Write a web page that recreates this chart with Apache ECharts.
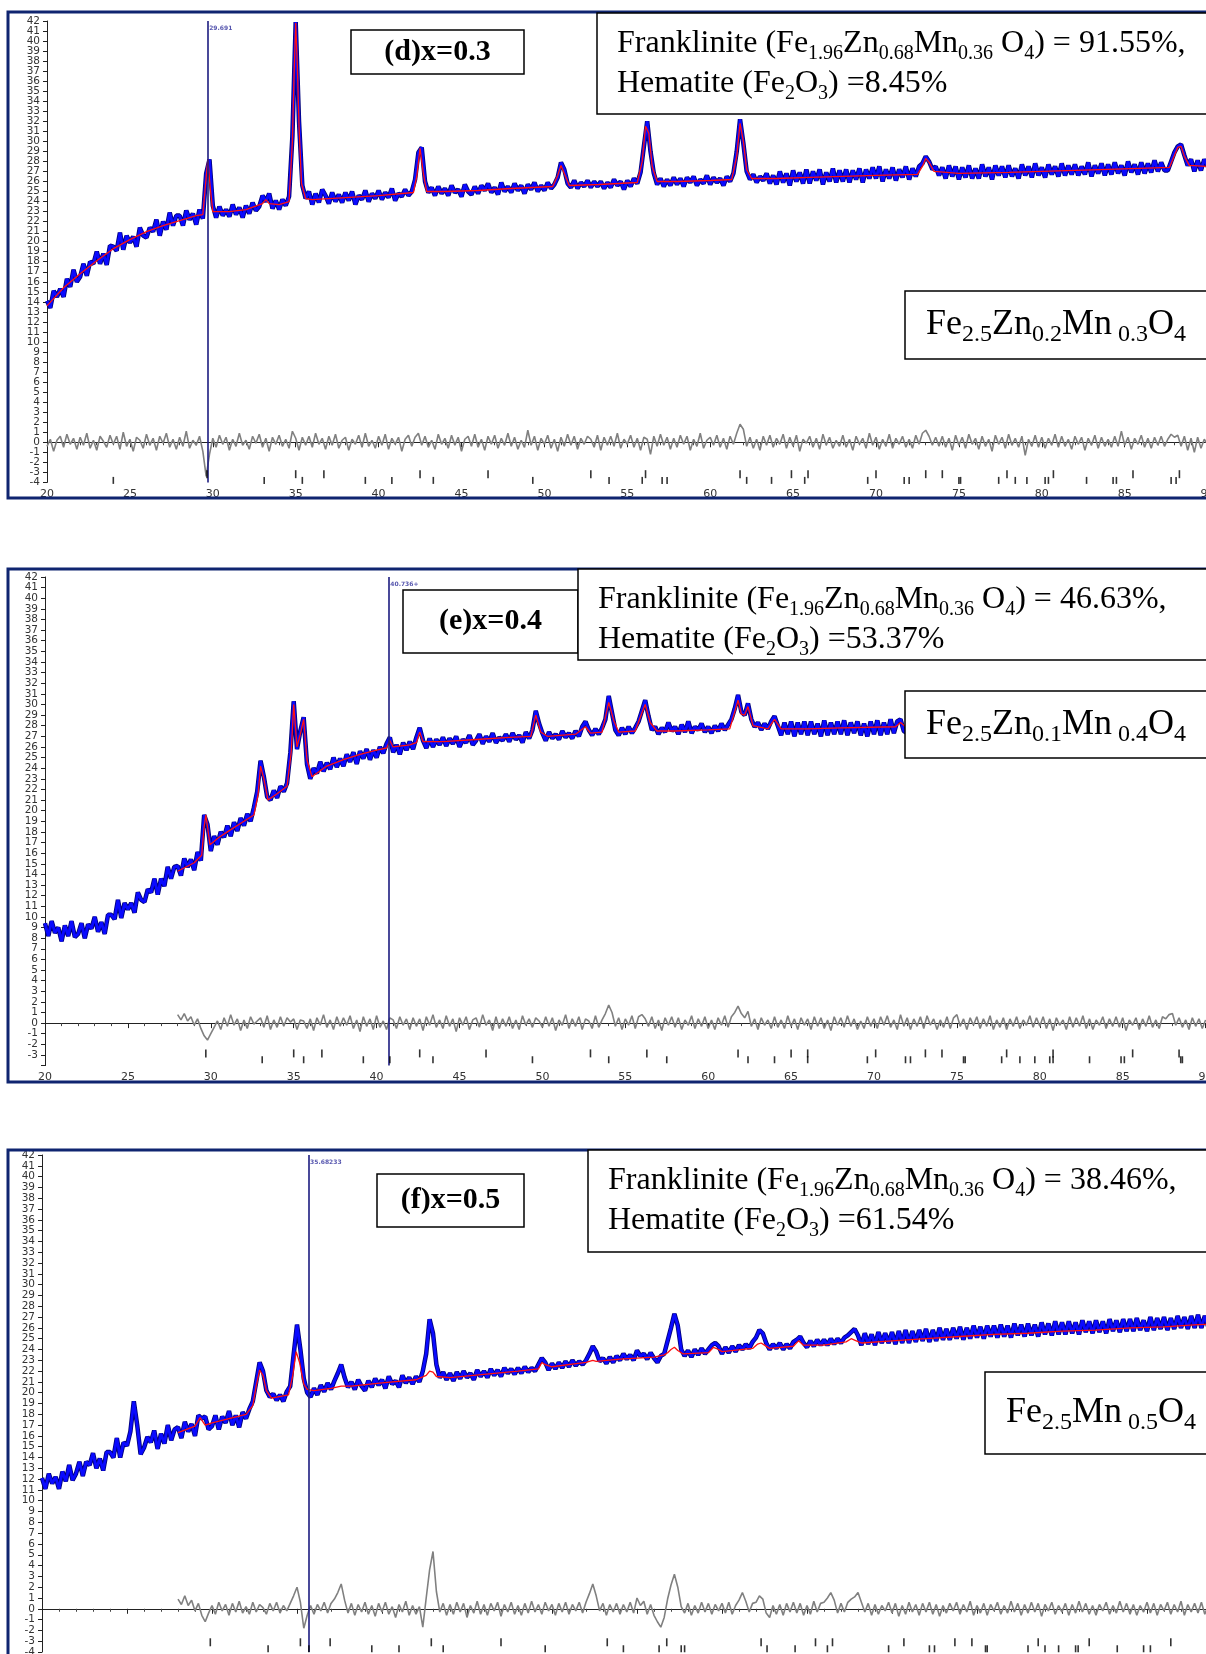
<!DOCTYPE html>
<html>
<head>
<meta charset="utf-8">
<title>Rietveld refinement patterns (d)-(f)</title>
<script src="https://cdn.jsdelivr.net/npm/echarts@6.0.0/dist/echarts.min.js"></script>
<style>
  html, body { margin: 0; padding: 0; background: #fff; }
  #chart { width: 1206px; height: 1654px; }
</style>
</head>
<body>
<div id="chart"></div>
<script>
// scan grid: 20..90 deg 2theta, one value every 0.2 deg
const START = 20;
const STEP = 0.2;

// ---------- (d) x = 0.3 ----------
const obsD = [
  14.1, 13.4, 15.1, 14.5, 15.3, 14.5, 16.3, 15.5, 17.2, 16.0,
  16.5, 17.8, 16.6, 18.0, 17.8, 19.0, 17.8, 18.8, 17.7, 19.6,
  19.5, 19.1, 20.9, 19.2, 20.6, 19.9, 20.5, 19.5, 21.4, 20.6,
  20.4, 21.4, 21.0, 22.2, 20.6, 22.0, 21.2, 22.9, 21.6, 22.6,
  22.6, 21.6, 23.1, 22.2, 22.8, 21.7, 23.2, 22.3, 26.8, 28.2,
  23.6, 22.4, 23.5, 22.6, 23.2, 22.5, 23.7, 22.7, 23.4, 22.4,
  23.6, 22.8, 23.9, 23.1, 23.5, 24.6, 24.0, 24.8, 23.3, 24.1,
  23.2, 24.2, 23.6, 24.5, 30.5, 41.9, 32.0, 25.6, 24.3, 25.0,
  23.7, 24.8, 23.9, 25.2, 24.6, 23.8, 24.9, 24.0, 24.7, 23.9,
  24.9, 24.1, 25.0, 23.7, 24.6, 24.2, 25.1, 24.0, 24.8, 24.3,
  25.1, 24.2, 24.9, 24.4, 25.3, 24.1, 24.8, 24.5, 25.2, 24.6,
  25.0, 26.2, 28.9, 29.4, 26.0, 24.9, 25.4, 24.6, 25.5, 24.8,
  25.3, 24.6, 25.6, 24.9, 25.2, 24.5, 25.7, 25.0, 24.7, 25.5,
  24.8, 25.6, 25.1, 25.8, 24.9, 25.4, 24.7, 25.9, 25.0, 25.5,
  24.9, 25.8, 25.1, 25.6, 24.8, 25.7, 25.2, 25.9, 25.0, 25.6,
  25.1, 25.9, 25.3, 25.7, 26.4, 27.9, 27.2, 25.8, 25.4, 26.1,
  25.3, 25.9, 25.5, 26.1, 25.4, 26.0, 25.5, 26.0, 25.3, 25.9,
  25.4, 26.2, 25.6, 26.0, 25.2, 26.1, 25.5, 26.3, 25.8, 26.9,
  29.5, 32.0, 29.0, 26.8, 25.7, 26.3, 25.5, 26.2, 25.6, 26.4,
  25.7, 26.3, 25.5, 26.4, 25.9, 26.5, 25.6, 26.2, 25.8, 26.6,
  25.7, 26.4, 25.9, 26.3, 25.6, 26.5, 26.0, 26.8, 29.0, 32.2,
  29.8, 27.0, 26.2, 26.7, 25.9, 26.5, 26.1, 26.8, 25.8, 26.6,
  25.7, 27.0, 25.9, 26.8, 25.6, 27.1, 26.0, 26.9, 25.8, 27.2,
  25.8, 27.0, 26.1, 27.2, 25.7, 26.9, 26.0, 27.3, 25.9, 27.1,
  26.0, 27.2, 25.9, 27.1, 26.2, 27.3, 25.9, 27.2, 26.3, 27.4,
  26.3, 27.5, 26.0, 27.2, 26.3, 27.4, 26.1, 27.2, 26.4, 27.5,
  26.2, 27.3, 26.5, 27.5, 27.8, 28.5, 28.0, 27.2, 27.5, 26.6,
  27.4, 26.3, 27.6, 26.5, 27.5, 26.2, 27.4, 26.4, 27.6, 26.3,
  27.3, 26.3, 27.7, 26.5, 27.4, 26.2, 27.6, 26.6, 27.5, 26.4,
  27.6, 26.5, 27.3, 26.3, 27.7, 26.6, 27.5, 26.4, 27.8, 26.6,
  27.4, 26.4, 27.7, 26.7, 27.5, 26.5, 27.8, 26.6, 27.6, 26.7,
  27.7, 26.6, 27.5, 26.7, 27.9, 26.5, 27.6, 26.8, 27.8, 26.6,
  27.7, 26.7, 27.9, 26.8, 27.6, 26.6, 28.0, 26.9, 27.7, 26.7,
  27.9, 26.8, 27.8, 26.9, 28.1, 27.0, 27.9, 27.1, 27.1, 28.0,
  28.9, 29.5, 29.7, 28.6, 27.6, 28.2, 27.0, 28.1, 27.1, 28.2,
  27.5
];
const calcD = [
  [20, 13.6], [21, 15.4], [22, 16.8], [23, 18.1], [24, 19.3], [25, 20.2], [26, 21.0],
  [27, 21.6], [28, 22.1], [29, 22.6], [29.4, 22.7], [29.55, 25.5], [29.7, 28.2],
  [29.85, 25.3], [30.0, 23.0], [31, 23.0], [32, 23.2], [33.0, 23.8], [33.2, 24.2],
  [33.4, 23.8], [34, 23.7], [34.6, 24.0], [34.8, 30.0], [34.9, 36.5], [35.0, 41.8],
  [35.1, 37.5], [35.2, 31.5], [35.35, 25.8], [35.6, 24.3], [36, 24.2], [38, 24.4],
  [40, 24.6], [42.1, 24.9], [42.3, 26.5], [42.5, 29.3], [42.7, 26.8], [42.9, 25.0],
  [44, 25.0], [46, 25.1], [48, 25.3], [50.5, 25.5], [50.8, 26.6], [51.0, 27.6],
  [51.2, 26.8], [51.5, 25.6], [53.3, 25.7], [55.6, 25.9], [55.9, 28.0], [56.1, 31.5],
  [56.3, 30.8], [56.5, 27.5], [56.8, 26.0], [58, 26.0], [60, 26.1], [61.3, 26.2],
  [61.6, 28.5], [61.8, 31.8], [62.0, 30.0], [62.2, 27.2], [62.5, 26.3], [64, 26.3],
  [66, 26.4], [68, 26.5], [70, 26.6], [72.5, 26.7], [72.8, 27.5], [73.0, 28.3],
  [73.2, 27.9], [73.5, 27.0], [75, 26.8], [78, 26.9], [80, 27.0], [82, 27.1],
  [84, 27.2], [87.7, 27.4], [88.0, 28.6], [88.2, 29.4], [88.4, 29.5], [88.6, 28.5],
  [88.9, 27.6], [90, 27.5]
];
const diffD = [
  -0.4, 0.3, -0.9, 0.2, 0.6, -0.5, 0.8, -0.2, 0.4, -0.7,
  0.5, -0.3, 0.9, -0.6, 0.2, -0.8, 0.6, 0.1, -0.5, 0.7,
  -0.2, 0.6, -0.7, 1.0, -0.4, 0.3, -0.9, 0.5, 0.2, -0.6,
  0.8, -0.3, 0.4, -0.8, 0.6, -0.1, 0.9, -0.5, 0.3, -0.7,
  0.5, -0.4, 1.1, -0.6, 0.2, -0.3, 0.6, -0.9, -3.4, -1.2,
  0.4, -0.5, 0.7, -0.2, 0.5, -0.8, 0.3, -0.4, 0.9, -0.3,
  0.2, -0.7, 0.6, -0.1, 0.8, -0.5, 0.4, -0.9, 0.5, -0.2,
  0.7, -0.4, 0.3, -0.6, 1.1, 0.4, -0.8, 0.5, -0.3, 0.6,
  -0.5, 0.9, -0.2, 0.4, -0.7, 0.6, -0.3, 0.8, -0.6, 0.2,
  0.5, -0.8, 0.3, -0.2, 0.7, -0.5, 0.9, -0.4, 0.2, -0.6,
  0.6, -0.3, 0.8, -0.7, 0.4, -0.2, 0.5, -0.9, 0.3, 0.7,
  -0.4, 0.5, 0.9, -0.3, 0.6, -0.5, 0.2, -0.7, 0.8, -0.2,
  0.4, -0.6, 0.7, -0.3, 0.5, -0.9, 0.3, 0.6, -0.4, 0.8,
  -0.5, 0.3, -0.8, 0.6, -0.2, 0.7, -0.6, 0.4, -0.3, 0.9,
  -0.4, 0.5, -0.7, 0.2, -0.5, 1.2, -0.3, 0.6, -0.8, 0.4,
  -0.2, 0.7, -0.6, 0.3, -0.9, 0.5, -0.4, 0.8, -0.3, 0.6,
  -0.7, 0.4, -0.2, 0.6, 0.3, -0.5, 0.7, -0.8, 0.5, -0.3,
  0.6, -0.4, 0.9, -0.6, 0.3, -0.2, 0.7, -0.5, 0.4, -0.8,
  0.5, 0.3, -1.2, 0.6, -0.4, 0.8, -0.3, 0.5, -0.7, 0.4,
  -0.5, 0.7, -0.2, 0.6, -0.8, 0.3, -0.4, 0.9, -0.6, 0.2,
  0.5, -0.3, 0.7, -0.5, 0.4, -0.7, 0.6, -0.2, 0.9, 1.8,
  1.3, -0.4, 0.5, -0.6, 0.3, -0.8, 0.6, -0.3, 0.7, -0.5,
  0.4, -0.2, 0.8, -0.6, 0.5, -0.4, 0.7, -0.9, 0.3, -0.1,
  0.6, -0.5, 0.4, -0.7, 0.8, -0.3, 0.5, -0.6, 0.2, -0.4,
  0.7, -0.5, 0.3, -0.8, 0.6, -0.2, 0.4, -0.6, 0.9, -0.3,
  0.5, -0.7, 0.3, -0.4, 0.8, -0.6, 0.4, -0.2, 0.6, -0.5,
  0.3, -0.6, 0.7, -0.2, 0.9, 1.2, 0.6, -0.3, 0.5, -0.4,
  0.6, -0.5, 0.4, -0.8, 0.7, -0.3, 0.5, -0.6, 0.8, -0.2,
  0.4, -0.7, 0.6, -0.4, 0.3, -0.9, 0.7, -0.2, 0.5, -0.6,
  0.8, -0.3, 0.4, -0.5, 0.6, -1.3, 0.3, -0.4, 0.7, -0.5,
  0.5, -0.6, 0.4, -0.3, 0.8, -0.5, 0.6, -0.4, 0.3, -0.7,
  0.6, -0.2, 0.5, -0.8, 0.4, -0.3, 0.7, -0.6, 0.5, -0.4,
  0.3, -0.5, 0.6, -0.4, 1.1, -0.3, 0.5, -0.7, 0.4, -0.2,
  0.7, -0.5, 0.4, -0.6, 0.5, -0.3, 0.6, -0.4, 0.3, 0.8,
  0.5, 0.7, -0.4, 0.6, -0.8, 0.4, -1.0, 0.5, -0.6, 0.3,
  -0.2
];
const spinelD = [29.65, 35.0, 36.7, 42.5, 46.6, 52.8, 56.1, 61.8, 64.9, 65.9, 70.0, 73.0, 74.0, 77.9, 80.7, 85.5, 88.3];
const hematiteD = [24.0, 33.1, 35.4, 39.2, 40.8, 43.3, 49.3, 53.9, 55.9, 57.1, 57.4, 62.2, 63.7, 65.7, 69.5, 71.7, 72.0,
  75.0, 75.1, 77.4, 78.4, 79.1, 80.2, 80.4, 82.7, 84.3, 84.5, 87.8, 88.1];

// ---------- (e) x = 0.4 ----------
const obsE = [
  9.4, 8.2, 9.6, 8.5, 9.0, 7.7, 9.2, 8.2, 9.6, 8.1,
  8.4, 9.4, 8.0, 9.3, 8.9, 10.0, 8.6, 9.5, 8.4, 10.2,
  10.2, 9.8, 11.6, 9.9, 11.3, 10.7, 11.3, 10.4, 12.3, 11.6,
  11.4, 12.6, 12.3, 13.6, 12.1, 13.6, 12.9, 14.7, 13.6, 14.7,
  14.8, 13.9, 15.5, 14.7, 15.4, 14.4, 16.1, 15.3, 19.6, 18.7,
  16.2, 17.6, 16.8, 18.0, 17.5, 18.6, 17.6, 18.9, 18.1, 19.3,
  18.6, 19.7, 19.0, 20.3, 21.8, 24.7, 23.2, 21.3, 21.0, 21.9,
  21.2, 22.3, 21.8, 22.6, 25.5, 30.3, 25.8, 27.5, 28.8, 24.4,
  23.0, 24.0, 23.5, 24.6, 23.7, 24.5, 23.9, 25.0, 24.1, 24.9,
  24.2, 25.3, 24.6, 25.5, 24.4, 25.6, 24.9, 25.8, 24.8, 25.7,
  25.0, 26.0, 25.4, 26.3, 26.9, 25.5, 26.2, 25.3, 26.4, 25.7,
  26.5, 25.8, 26.9, 27.8, 26.6, 25.9, 26.8, 26.0, 26.7, 26.2,
  26.9, 26.1, 26.8, 26.3, 27.0, 26.0, 26.7, 26.4, 27.1, 26.2,
  26.6, 27.2, 26.3, 27.0, 26.5, 27.3, 26.4, 26.9, 26.6, 27.2,
  26.5, 27.3, 26.7, 27.1, 26.4, 27.4, 26.8, 27.6, 29.4, 28.2,
  27.3, 26.6, 27.4, 26.8, 27.2, 26.7, 27.5, 26.9, 27.3, 26.8,
  27.5, 27.0, 27.9, 28.4, 27.6, 27.1, 27.7, 27.2, 27.8, 28.6,
  30.8, 29.2, 27.6, 27.1, 27.8, 27.2, 27.9, 27.3, 27.8, 28.4,
  29.4, 30.4, 28.9, 27.6, 27.9, 27.2, 27.8, 27.4, 28.3, 27.5,
  27.9, 27.2, 28.1, 27.4, 28.4, 27.3, 27.9, 27.6, 28.2, 27.4,
  27.9, 27.3, 28.0, 27.5, 28.2, 27.6, 28.1, 28.6, 29.6, 30.9,
  29.3, 29.0, 30.1, 28.6, 27.9, 28.3, 27.6, 28.2, 27.7, 28.4,
  28.9, 28.0, 27.1, 28.3, 27.2, 28.4, 27.0, 28.3, 27.2, 28.4,
  27.1, 28.4, 27.2, 28.2, 27.0, 28.5, 27.1, 28.3, 27.2, 28.4,
  27.2, 28.5, 27.1, 28.3, 27.3, 28.4, 27.1, 28.2, 27.0, 28.4,
  27.2, 28.5, 27.1, 28.3, 27.2, 28.6, 27.3, 28.4, 28.6, 27.5,
  27.3, 28.5, 27.2, 28.4, 27.3, 28.6, 27.2, 28.3, 27.4, 28.6,
  27.3, 28.5, 27.2, 28.4, 27.4, 28.3, 28.9, 28.1, 27.3, 28.6,
  27.4, 28.5, 27.3, 28.6, 27.3, 28.4, 27.4, 28.6, 27.3, 28.5,
  27.5, 28.6, 27.4, 28.5, 27.4, 28.7, 27.5, 28.4, 27.5, 28.6,
  27.4, 28.6, 27.5, 28.7, 27.4, 28.5, 27.6, 28.6, 27.4, 28.5,
  27.6, 28.7, 27.5, 28.6, 27.5, 28.6, 27.6, 28.8, 27.5, 28.5,
  27.7, 28.8, 27.6, 28.6, 27.6, 28.8, 27.5, 28.6, 27.7, 28.7,
  27.7, 28.8, 27.7, 28.7, 27.8, 28.9, 27.7, 28.7, 29.0, 29.4,
  29.6, 29.2, 28.2, 29.0, 27.8, 28.9, 27.9, 29.0, 27.8, 28.8,
  28.5
];
const calcE = [
  [28, 14.3], [29, 15.1], [29.45, 15.8], [29.6, 18.5], [29.7, 19.6], [29.8, 18.5],
  [29.95, 16.8], [30.5, 17.5], [31, 18.0], [32, 19.0], [32.6, 19.6], [32.85, 21.5],
  [33.0, 24.2], [33.2, 23.0], [33.45, 21.0], [34, 21.6], [34.6, 22.3], [34.85, 25.5],
  [35.0, 30.0], [35.2, 26.0], [35.4, 27.2], [35.6, 28.6], [35.8, 24.8], [36.1, 23.2],
  [37, 24.2], [38, 24.8], [39, 25.3], [40, 25.7], [40.6, 25.9], [40.8, 26.6],
  [41.0, 26.0], [42, 26.2], [42.4, 26.4], [42.6, 27.4], [42.8, 26.5], [44, 26.5],
  [46, 26.7], [48, 26.9], [49.3, 27.0], [49.6, 29.0], [49.9, 27.4], [50.3, 27.0],
  [52, 27.2], [52.6, 27.9], [52.9, 27.3], [53.6, 27.4], [54.0, 30.2], [54.3, 28.5],
  [54.6, 27.4], [55.6, 27.5], [56.0, 29.2], [56.2, 30.0], [56.5, 28.3], [56.9, 27.5],
  [58, 27.5], [60, 27.6], [61.3, 27.7], [61.6, 29.3], [61.8, 30.4], [62.0, 29.1],
  [62.2, 29.0], [62.4, 29.8], [62.7, 28.0], [63.6, 27.7], [64.0, 28.6], [64.4, 27.7],
  [66, 27.7], [68, 27.8], [71.3, 27.9], [71.6, 28.3], [71.9, 27.9], [75.0, 27.9],
  [75.2, 28.4], [75.5, 28.0], [80, 28.0], [85, 28.1], [87.6, 28.3], [88.0, 29.3],
  [88.3, 29.2], [88.6, 28.4], [90, 28.3]
];
const diffE = [
  0.8, 0.3, 0.9, 0.2, 0.6, -0.2, 0.4, -0.5, -1.2, -1.6,
  -1.0, -0.4, 0.2, -0.6, 0.5, -0.3, 0.8, -0.2, 0.4, -0.7,
  0.3, -0.5, 0.6, -0.1, 0.2, 0.5, -0.4, 0.7, -0.6, 0.3,
  -0.4, 0.6, -0.3, 0.5, 0.1, 0.4, -0.6, 0.3, 0.2, -0.5,
  0.4, -0.7, 0.5, -0.2, 0.8, -0.4, 0.3, -0.6, 0.6, -0.3,
  0.5, -0.2, 0.7, -0.5, 0.3, -0.8, 0.6, -0.3, 0.4, -0.6,
  0.7, -0.4, 0.2, -0.6, 0.5, 0.3, -0.5, 0.6, -0.2, 0.4,
  -0.6, 0.5, -0.3, 0.4, -0.7, 0.6, -0.2, 0.8, -0.4, 0.3,
  -0.5, 0.7, -0.3, 0.4, -0.8, 0.5, -0.2, 0.6, -0.6, 0.3,
  0.5, -0.4, 0.8, -0.2, 0.3, -0.7, 0.6, -0.5, 0.4, -0.3,
  0.6, -0.5, 0.3, -0.6, 0.7, -0.2, 0.4, -0.4, 0.5, 0.2,
  -0.4, 0.6, -0.3, 0.5, -0.7, 0.3, -0.2, 0.8, -0.5, 0.4,
  -0.3, 0.6, -0.6, 0.4, 0.2, -0.5, 0.7, -0.4, 0.3, 0.9,
  1.7, 1.0, -0.3, 0.5, -0.6, 0.4, -0.2, 0.7, -0.5, 0.6,
  0.8, 0.4, -0.3, 0.6, -0.5, 0.3, -0.7, 0.5, -0.2, 0.6,
  -0.4, 0.5, -0.6, 0.3, -0.2, 0.7, -0.5, 0.4, -0.3, 0.6,
  -0.5, 0.3, -0.6, 0.5, -0.2, 0.7, -0.4, 0.6, 1.0, 1.6,
  0.9, 0.5, 1.1, -0.3, 0.4, -0.6, 0.5, -0.2, 0.3, -0.5,
  0.6, -0.4, 0.3, -0.5, 0.7, -0.3, 0.4, -0.6, 0.5, -0.2,
  0.4, -0.6, 0.6, -0.3, 0.5, -0.5, 0.3, -0.7, 0.6, -0.2,
  0.5, -0.4, 0.7, -0.3, 0.4, -0.6, 0.2, -0.5, 0.6, -0.3,
  0.4, -0.5, 0.6, -0.2, 0.7, -0.4, 0.3, -0.6, 0.8, -0.3,
  0.5, -0.6, 0.4, -0.3, 0.6, -0.5, 0.7, -0.2, 0.4, -0.6,
  0.3, -0.4, 0.6, -0.5, 0.5, 0.8, -0.3, 0.4, -0.6, 0.5,
  -0.2, 0.6, -0.5, 0.4, -0.3, 0.7, -0.6, 0.3, -0.4, 0.5,
  -0.6, 0.4, -0.3, 0.6, -0.5, 0.3, -0.2, 0.7, -0.4, 0.5,
  -0.3, 0.6, -0.5, 0.4, -0.7, 0.5, -0.2, 0.3, -0.6, 0.6,
  -0.4, 0.5, -0.3, 0.7, -0.5, 0.4, -0.6, 0.3, -0.2, 0.6,
  -0.5, 0.4, -0.3, 0.6, -0.4, 0.5, -0.7, 0.3, -0.2, 0.5,
  -0.6, 0.4, -0.3, 0.7, -0.4, 0.3, -0.5, 0.6, 0.4, 0.8,
  0.9, -0.2, 0.5, -0.4, 0.3, -0.6, 0.5, -0.3, 0.4, -0.5,
  0.3
];
const spinelE = [29.7, 35.0, 36.7, 42.6, 46.6, 52.9, 56.3, 61.8, 65.0, 66.0, 70.1, 73.1, 74.1, 78.0, 80.8, 85.6, 88.4];
const hematiteE = [33.1, 35.6, 39.2, 40.8, 43.4, 49.4, 54.0, 57.5, 62.4, 64.0, 66.0, 69.6, 71.9, 72.2, 75.4, 75.5,
  77.7, 78.8, 79.7, 80.6, 80.8, 83.0, 84.9, 85.1, 88.5, 88.6];

// ---------- (f) x = 0.5 ----------
const obsF = [
  12.1, 11.1, 12.5, 11.6, 12.2, 11.1, 12.7, 11.8, 13.3, 11.9,
  12.5, 13.6, 12.3, 13.6, 13.3, 14.4, 13.0, 13.9, 12.8, 14.5,
  14.5, 14.0, 15.8, 14.0, 15.4, 15.1, 16.4, 19.2, 17.0, 14.3,
  14.9, 15.9, 15.4, 16.5, 14.8, 16.2, 15.3, 17.0, 15.6, 16.6,
  16.8, 15.8, 17.3, 16.4, 17.1, 16.0, 17.9, 17.6, 17.8, 16.6,
  16.9, 17.9, 16.6, 17.8, 17.2, 18.3, 17.0, 17.9, 16.8, 18.2,
  17.6, 18.5, 19.2, 21.0, 22.8, 22.0, 20.2, 19.6, 19.9, 19.3,
  19.8, 19.2, 20.1, 20.6, 23.5, 26.3, 24.0, 21.3, 20.0, 19.6,
  20.4, 19.8, 20.7, 20.1, 20.9, 20.3, 21.1, 21.8, 22.6, 21.4,
  20.5, 21.0, 20.3, 21.2, 20.6, 20.2, 21.1, 20.5, 21.3, 20.7,
  21.2, 20.4, 21.5, 20.8, 21.1, 20.5, 21.6, 20.9, 21.4, 20.8,
  21.5, 21.0, 22.0, 23.6, 26.8, 25.5, 22.6, 21.4, 21.9, 21.2,
  21.8, 21.1, 21.9, 21.3, 22.0, 21.4, 21.8, 21.2, 22.1, 21.5,
  22.0, 21.4, 22.2, 21.6, 22.1, 21.5, 22.3, 21.8, 22.2, 21.7,
  22.3, 21.8, 22.4, 21.9, 22.3, 22.0, 22.6, 23.2, 22.8, 22.1,
  22.7, 22.2, 22.8, 22.3, 22.9, 22.4, 23.0, 22.5, 22.9, 22.6,
  23.0, 23.6, 24.3, 23.8, 22.9, 23.2, 22.7, 23.3, 22.8, 23.4,
  23.0, 23.6, 23.1, 23.5, 23.0, 23.9, 23.4, 23.6, 23.1, 23.7,
  23.2, 22.8, 23.4, 23.6, 24.8, 26.0, 27.3, 26.2, 24.0, 23.4,
  23.9, 23.3, 24.0, 23.5, 24.1, 23.6, 24.0, 24.4, 24.6, 24.3,
  23.6, 24.2, 23.7, 24.3, 23.8, 24.4, 24.0, 24.5, 24.1, 24.7,
  25.1, 25.8, 25.5, 24.6, 24.0, 24.5, 24.1, 24.6, 24.0, 24.5,
  24.1, 24.7, 24.9, 25.2, 24.6, 24.2, 24.8, 24.3, 24.9, 24.4,
  24.9, 24.4, 25.0, 24.5, 25.0, 24.6, 25.1, 25.3, 25.6, 25.9,
  25.3, 24.4, 25.5, 24.5, 25.4, 24.4, 25.6, 24.6, 25.5, 24.6,
  25.6, 24.5, 25.7, 24.6, 25.8, 24.6, 25.7, 24.7, 25.8, 24.8,
  25.9, 24.7, 25.8, 24.8, 26.0, 24.9, 25.9, 24.9, 26.0, 25.0,
  26.1, 24.9, 26.0, 25.0, 26.2, 25.1, 26.1, 25.0, 26.2, 25.2,
  26.2, 25.1, 26.3, 25.2, 26.2, 25.1, 26.4, 25.3, 26.3, 25.2,
  26.4, 25.3, 26.3, 25.2, 26.5, 25.4, 26.4, 25.3, 26.6, 25.4,
  26.5, 25.4, 26.6, 25.5, 26.5, 25.4, 26.7, 25.6, 26.6, 25.5,
  26.7, 25.6, 26.6, 25.5, 26.8, 25.7, 26.7, 25.6, 26.8, 25.7,
  26.8, 25.7, 26.9, 25.8, 26.7, 25.7, 27.0, 25.8, 26.9, 25.9,
  27.0, 25.8, 26.9, 25.9, 27.1, 26.0, 27.0, 25.9, 27.1, 26.0,
  27.2, 26.0, 27.1, 26.1, 27.2, 26.0, 27.1, 26.2, 27.3, 26.1,
  26.8
];
const calcF = [
  [28, 16.3], [29.0, 16.9], [29.3, 17.7], [29.6, 17.0], [30, 17.2], [31, 17.6], [32, 18.0],
  [32.4, 18.8], [32.6, 20.6], [32.8, 22.1], [33.0, 21.6], [33.2, 20.2], [33.5, 19.5],
  [34.5, 19.8], [34.75, 21.6], [34.95, 23.8], [35.15, 22.8], [35.4, 20.8], [35.6, 20.3],
  [36, 20.2], [37, 20.4], [37.6, 20.6], [38.2, 20.6], [40, 20.9], [42, 21.2], [42.6, 21.6],
  [42.8, 22.0], [43.0, 21.9], [43.2, 21.5], [44, 21.4], [46, 21.7], [48, 22.0], [49.2, 22.2],
  [49.4, 22.8], [49.6, 22.6], [50, 22.4], [52, 22.8], [52.2, 22.9], [52.4, 23.0], [52.6, 22.9],
  [54, 23.1], [56, 23.3], [56.6, 23.5], [56.8, 23.7], [57.0, 24.0], [57.2, 24.2], [57.4, 23.9],
  [57.7, 23.6], [59.2, 23.7], [59.5, 24.2], [59.8, 24.0], [60, 23.8], [61.8, 24.1], [62.1, 24.5],
  [62.3, 24.6], [62.5, 24.4], [62.8, 24.1], [64.2, 24.3], [64.5, 24.8], [64.8, 24.4], [66, 24.4],
  [67.3, 24.7], [67.6, 25.0], [67.9, 24.8], [68.2, 24.6], [70, 24.8], [72, 25.0], [74, 25.2],
  [76, 25.4], [78, 25.5], [80, 25.7], [82, 25.8], [84, 26.0], [86, 26.1], [88, 26.3], [90, 26.4]
];
const diffF = [
  0.9, 0.4, 1.2, 0.3, 0.8, -0.2, 0.5, -0.6, -1.2, -0.4,
  0.3, -0.5, 0.6, -0.2, 0.4, -0.6, 0.5, -0.3, 0.7, -0.4,
  0.2, -0.5, 0.6, -0.3, 0.4, 0.1, -0.5, 0.5, -0.2, 0.6,
  -0.4, 0.3, -0.2, 0.5, 1.2, 2.0, 0.6, -1.8, -0.6, 0.3,
  -0.5, 0.4, -0.2, 0.6, -0.4, 0.5, 0.9, 1.5, 2.3, 0.8,
  -0.4, 0.5, -0.6, 0.4, -0.3, 0.6, -0.5, 0.3, -0.7, 0.5,
  -0.3, 0.6, -0.5, 0.2, -0.8, 0.4, -0.3, 0.7, -0.6, 0.3,
  -0.5, 0.2, -1.7, 1.0, 3.6, 5.3, 1.6, -0.3, 0.5, -0.6,
  0.4, -0.5, 0.6, -0.3, 0.5, -0.8, 0.3, -0.4, 0.7, -0.5,
  0.4, -0.6, 0.5, -0.2, 0.6, -0.7, 0.4, -0.3, 0.6, -0.5,
  0.3, -0.6, 0.5, -0.4, 0.7, -0.3, 0.4, -0.5, 0.6, -0.2,
  0.4, -0.6, 0.5, -0.3, 0.6, -0.5, 0.4, -0.2, 0.6, -0.4,
  0.6, 1.4, 2.3, 1.2, -0.2, 0.5, -0.6, 0.4, -0.3, 0.5,
  -0.5, 0.4, -0.3, 0.6, -0.4, 1.0, 0.3, 0.7, -0.5, 0.4,
  -0.6, -1.2, -1.7, -0.8, 0.9, 2.2, 3.2, 2.0, 0.2, -0.4,
  0.5, -0.6, 0.3, -0.4, 0.6, -0.3, 0.5, -0.5, 0.4, -0.2,
  0.5, -0.4, 0.6, -0.5, 0.3, 0.8, 1.5, 0.7, -0.3, 0.5,
  0.6, 1.2, 0.9, -0.4, -0.8, 0.3, -0.5, 0.4, -0.6, 0.5,
  -0.3, 0.6, -0.4, 0.5, -0.6, 0.3, -0.5, 0.7, -0.3, 0.5,
  0.6, 1.0, 1.5, 0.8, -0.4, 0.5, -0.3, 0.6, 0.9, 1.1,
  1.5, 0.6, -0.3, 0.5, -0.6, 0.4, -0.5, 0.3, -0.2, 0.6,
  -0.4, 0.5, -0.7, 0.3, -0.5, 0.6, -0.3, 0.4, -0.6, 0.5,
  -0.3, 0.6, -0.5, 0.4, -0.7, 0.3, -0.4, 0.5, -0.2, 0.6,
  -0.5, 0.4, -0.3, 0.7, -0.6, 0.3, -0.4, 0.5, -0.6, 0.4,
  -0.2, 0.6, -0.5, 0.3, -0.4, 0.7, -0.3, 0.5, -0.6, 0.4,
  -0.4, 0.6, -0.3, 0.5, -0.7, 0.4, -0.2, 0.6, -0.5, 0.3,
  -0.3, 0.5, -0.6, 0.4, -0.4, 0.7, -0.3, 0.5, -0.5, 0.3,
  -0.6, 0.4, -0.2, 0.6, -0.5, 0.3, -0.4, 0.7, -0.3, 0.5,
  -0.5, 0.4, -0.6, 0.3, -0.3, 0.6, -0.4, 0.5, -0.6, 0.4,
  -0.2, 0.6, -0.5, 0.4, -0.3, 0.7, -0.6, 0.4, -0.3, 0.5,
  -0.4, 0.6, -0.5, 0.3, -0.2, 0.7, -0.4, 0.5, -0.6, 0.4,
  0.2
];
const spinelF = [29.9, 35.2, 36.95, 42.9, 47.0, 53.25, 56.75, 62.3, 65.5, 66.5, 70.7, 73.7, 74.7, 78.6, 81.6, 86.4];
const hematiteF = [33.3, 35.7, 39.4, 41.0, 43.6, 49.6, 54.2, 56.3, 57.6, 57.8, 62.65, 64.3, 66.2, 69.8, 72.2, 72.5,
  75.5, 75.6, 78.0, 79.0, 79.8, 80.8, 80.95, 83.25, 84.8, 85.2];

// cursor lines and their readouts
const cursorPos = [29.691, 40.736, 35.68233];
const cursorText = ['29.691', '40.736+', '35.68233'];

// annotation text
const sampleText = ['(d)x=0.3', '(e)x=0.4', '(f)x=0.5'];
const frankliniteShare = ['91.55', '46.63', '38.46'];
const hematiteShare = ['8.45', '53.37', '61.54'];
const compositionText = [
  '{m|Fe}{s|2.5}{m|Zn}{s|0.2}{m|Mn}{s| 0.3}{m|O}{s|4}',
  '{m|Fe}{s|2.5}{m|Zn}{s|0.1}{m|Mn}{s| 0.4}{m|O}{s|4}',
  '{m|Fe}{s|2.5}{m|Mn}{s| 0.5}{m|O}{s|4}'
];

const toPairs = (vals, start) => vals.map((v, i) => [Math.round((start + i * STEP) * 10) / 10, v]);

const panels = [
  { grid: { left: 47, top: 21, width: 1160.6, height: 461.4 }, hideMin: false,
    obs: obsD, calc: calcD, diff: diffD, diffStart: 20, spinel: spinelD, hematite: hematiteD, rows: [-3.18, -3.8] },
  { grid: { left: 45, top: 577, width: 1160.6, height: 488.6 }, hideMin: true,
    obs: obsE, calc: calcE, diff: diffE, diffStart: 28, spinel: spinelE, hematite: hematiteE, rows: [-2.85, -3.45] },
  { grid: { left: 42, top: 1155, width: 1190, height: 497 }, hideMin: false,
    obs: obsF, calc: calcF, diff: diffF, diffStart: 28, spinel: spinelF, hematite: hematiteF, rows: [-3.1, -3.7] }
];

const axisFont = { fontFamily: 'DejaVu Sans', fontSize: 10.5, color: '#333' };
const grids = [], xAxes = [], yAxes = [], series = [];

panels.forEach((p, i) => {
  grids.push(Object.assign({ containLabel: false, outerBoundsMode: 'none' }, p.grid));
  xAxes.push({
    type: 'value', gridIndex: i, min: 20, max: 90, interval: 5,
    axisLine: { lineStyle: { color: '#222', width: 1 } },
    axisTick: { length: 5, lineStyle: { color: '#222' } },
    minorTick: { show: true, splitNumber: 5, length: 3, lineStyle: { color: '#444' } },
    axisLabel: Object.assign({ margin: 6, showMinLabel: true, showMaxLabel: true }, axisFont, { fontSize: 11 }),
    splitLine: { show: false }
  });
  // the axis itself: line and a tick at every unit
  yAxes.push({
    type: 'value', gridIndex: i, position: 'left', min: -4, max: 42, interval: 1,
    axisLine: { show: true, lineStyle: { color: '#222', width: 1 } },
    axisTick: { show: true, length: 4, lineStyle: { color: '#222' } },
    axisLabel: { show: false },
    splitLine: { show: false }
  });
  // labels, split over two label-only axes so neighbouring labels never get culled
  yAxes.push({
    type: 'value', gridIndex: i, position: 'left', min: -4, max: 42, interval: 2,
    axisLine: { show: false }, axisTick: { show: false }, splitLine: { show: false },
    axisLabel: Object.assign({ margin: 7, showMinLabel: !p.hideMin, showMaxLabel: true }, axisFont)
  });
  yAxes.push({
    type: 'value', gridIndex: i, position: 'left', min: -4, max: 42, interval: 1,
    axisLine: { show: false }, axisTick: { show: false }, splitLine: { show: false },
    axisLabel: Object.assign({ margin: 7, formatter: v => (Math.abs(v) % 2 === 1 ? String(v) : '') }, axisFont)
  });
  const common = { xAxisIndex: i, yAxisIndex: 3 * i, animation: false, silent: true };
  const obsPairs = toPairs(p.obs, START);
  // observed: dark edge underneath a blue band
  series.push(Object.assign({ type: 'line', data: obsPairs, showSymbol: false, z: 2,
    lineStyle: { color: '#00007a', width: 4.5 } }, common));
  series.push(Object.assign({ type: 'line', data: obsPairs, showSymbol: false, z: 3,
    lineStyle: { color: '#0a0aff', width: 2.8 } }, common));
  series.push(Object.assign({ type: 'line', data: p.calc, showSymbol: false, z: 4,
    lineStyle: { color: '#ff1010', width: 1.3 } }, common));
  series.push(Object.assign({ type: 'line', data: toPairs(p.diff, p.diffStart), showSymbol: false, z: 2,
    lineStyle: { color: '#808080', width: 1.6 } }, common));
  series.push(Object.assign({ type: 'scatter', data: p.spinel.map(x => [x, p.rows[0]]), z: 5,
    symbol: 'rect', symbolSize: [1.6, 8], itemStyle: { color: '#000' } }, common));
  series.push(Object.assign({ type: 'scatter', data: p.hematite.map(x => [x, p.rows[1]]), z: 5,
    symbol: 'rect', symbolSize: [1.6, 7], itemStyle: { color: '#000' } }, common));
  series.push(Object.assign({
    type: 'scatter', data: [[cursorPos[i], 41.3]], symbolSize: 1, z: 6,
    itemStyle: { color: 'rgba(0,0,0,0)' },
    label: { show: true, position: 'right', distance: 1, formatter: cursorText[i],
      fontFamily: 'DejaVu Sans', fontSize: 6, fontWeight: 'bold', color: '#2a2a9a' },
    markLine: { symbol: ['none', 'none'], silent: true, animation: false, label: { show: false },
      lineStyle: { color: '#1c1c80', width: 1.6, type: 'solid' }, data: [{ xAxis: cursorPos[i] }] }
  }, common));
});

// frames and text boxes
const NAVY = '#0f2570';
const layout = [
  { frame: [8, 12, 1300, 486], tag: [351, 30, 173, 44], phase: [597, 13, 700, 101], comp: [905, 291, 400, 68] },
  { frame: [8, 569, 1300, 513], tag: [403, 590, 175, 63], phase: [578, 569, 700, 91], comp: [905, 691, 400, 67] },
  { frame: [8, 1150, 1300, 620], tag: [377, 1174, 147, 53], phase: [588, 1150, 700, 102], comp: [985, 1372, 300, 82] }
];
const serif = 'Liberation Serif';
const graphics = [];
layout.forEach((L, i) => {
  graphics.push({ type: 'rect', z: 100, shape: { x: L.frame[0], y: L.frame[1], width: L.frame[2], height: L.frame[3] },
    style: { fill: 'none', stroke: NAVY, lineWidth: 3 } });
  [L.tag, L.phase, L.comp].forEach(b => graphics.push({
    type: 'rect', z: 101, shape: { x: b[0], y: b[1], width: b[2], height: b[3] },
    style: { fill: '#fff', stroke: '#000', lineWidth: 1.5 } }));
  graphics.push({ type: 'text', z: 102, x: L.tag[0] + L.tag[2] / 2, y: L.tag[1] + L.tag[3] / 2,
    style: { text: sampleText[i], fontFamily: serif, fontWeight: 'bold', fontSize: 30, fill: '#000',
      align: 'center', verticalAlign: 'middle' } });
  const phaseRich = '{n|Franklinite (Fe}{s|1.96}{n|Zn}{s|0.68}{n|Mn}{s|0.36}{n| O}{s|4}{n|) = ' +
    frankliniteShare[i] + '%,}\n{n|Hematite (Fe}{s|2}{n|O}{s|3}{n|) =' + hematiteShare[i] + '%}';
  graphics.push({ type: 'text', z: 102, x: L.phase[0] + 20, y: L.phase[1] + 11,
    style: { text: phaseRich, align: 'left', verticalAlign: 'top', fill: '#000',
      rich: {
        n: { fontFamily: serif, fontSize: 32, lineHeight: 40, fill: '#000' },
        s: { fontFamily: serif, fontSize: 20, lineHeight: 19, verticalAlign: 'bottom', fill: '#000' }
      } } });
  graphics.push({ type: 'text', z: 102, x: L.comp[0] + 21, y: L.comp[1] + L.comp[3] / 2,
    style: { text: compositionText[i], align: 'left', verticalAlign: 'middle', fill: '#000',
      rich: {
        m: { fontFamily: serif, fontSize: 36, lineHeight: 44, fill: '#000' },
        s: { fontFamily: serif, fontSize: 24, lineHeight: 22, verticalAlign: 'bottom', fill: '#000' }
      } } });
});

const chart = echarts.init(document.getElementById('chart'), null, { renderer: 'canvas' });
chart.setOption({
  backgroundColor: '#fff',
  animation: false,
  grid: grids,
  xAxis: xAxes,
  yAxis: yAxes,
  series: series,
  graphic: graphics
});
window.addEventListener('resize', () => chart.resize());
</script>
</body>
</html>
